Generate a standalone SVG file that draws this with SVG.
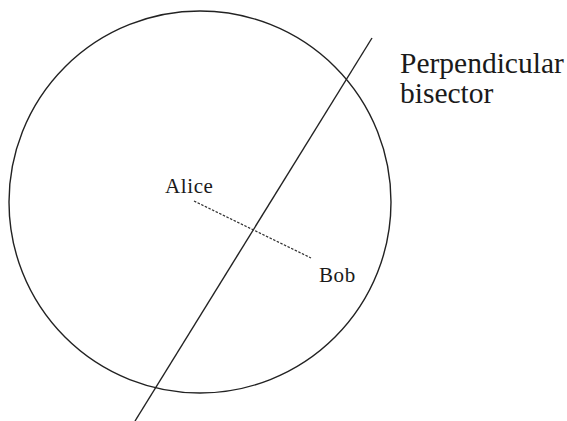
<svg xmlns="http://www.w3.org/2000/svg" width="567" height="421" viewBox="0 0 567 421">
<style>
.shape{fill:none;stroke:#222;stroke-width:1.4}
.dash{fill:none;stroke:#333;stroke-width:1.2;stroke-dasharray:2.5,1.5}
text{font-family:"Liberation Serif","Times New Roman",serif;fill:#1a1a1a}
.lbl{font-size:21px;letter-spacing:0.6px}
.big{font-size:29.5px}
</style>
<rect width="567" height="421" fill="#fff"/>
<g id="circle"><circle class="shape" cx="200" cy="202" r="191"/></g>
<g id="connectors">
<line class="shape" x1="372" y1="38" x2="135" y2="421"/>
<line class="dash" x1="194" y1="201" x2="311" y2="258"/>
</g>
<g id="alice"><text class="lbl" x="165" y="193">Alice</text></g>
<g id="bob"><text class="lbl" x="319" y="282">Bob</text></g>
<g id="label"><text class="big" x="400" y="73">Perpendicular</text><text class="big" x="400" y="103">bisector</text></g>
</svg>
